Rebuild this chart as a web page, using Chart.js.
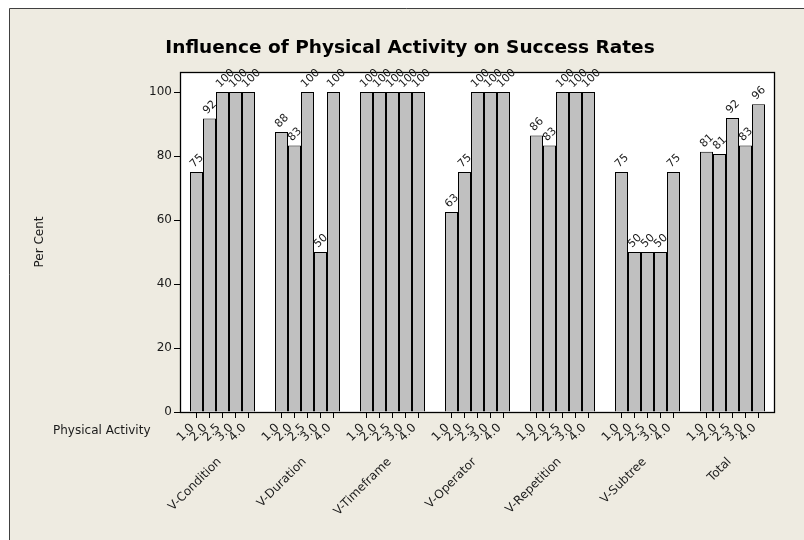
<!DOCTYPE html>
<html><head><meta charset="utf-8">
<script src="https://cdn.jsdelivr.net/npm/chart.js@4.4.1/dist/chart.umd.min.js"></script>
<style>html,body{margin:0;padding:0;background:#fff;} canvas{display:block;}</style>
</head><body>
<canvas id="c" width="804" height="540"></canvas>
<script>
const groups = ['V-Condition','V-Duration','V-Timeframe','V-Operator','V-Repetition','V-Subtree','Total'];
const activityLevels = ['1.0','2.0','2.5','3.0','4.0'];
// Per Cent per Physical Activity level, across the groups
const level10 = [75, 87.5, 100, 62.5, 86.4, 75, 81.3];
const level20 = [91.7, 83.3, 100, 75, 83.3, 50, 80.6];
const level25 = [100, 100, 100, 100, 100, 50, 91.9];
const level30 = [100, 50, 100, 100, 100, 50, 83.3];
const level40 = [100, 100, 100, 100, 100, 75, 96.2];
const yTicks = [0, 20, 40, 60, 80, 100];
const titleText = 'Influence of Physical Activity on Success Rates';
const yTitle = 'Per Cent';
const xTitle = 'Physical Activity';

const BG = '#EEEBE1';
const TXT = '#1a1a1a';
const FONT = 'DejaVu Sans';
Chart.defaults.font.family = FONT;
Chart.defaults.color = TXT;

const seriesValues = [level10, level20, level25, level30, level40];

const decor = {
  id: 'decor',
  beforeDraw(chart) {
    const ctx = chart.ctx, W = chart.width, H = chart.height;
    ctx.save();
    ctx.fillStyle = '#fff'; ctx.fillRect(0, 0, W, H);
    ctx.fillStyle = BG; ctx.fillRect(9, 8, W - 9, H - 8);
    ctx.strokeStyle = '#404040'; ctx.lineWidth = 1;
    ctx.beginPath(); ctx.moveTo(9.5, H); ctx.lineTo(9.5, 8.5); ctx.lineTo(W, 8.5); ctx.stroke();
    const a = chart.chartArea;
    ctx.fillStyle = '#fff'; ctx.fillRect(a.left, a.top, a.right - a.left, a.bottom - a.top);
    ctx.restore();
  },
  afterDatasetsDraw(chart) {
    const ctx = chart.ctx, a = chart.chartArea;
    ctx.save();
    // plot box
    ctx.strokeStyle = '#000'; ctx.lineWidth = 1.3;
    ctx.strokeRect(a.left + 0.5, a.top + 0.5, a.right - a.left - 1, a.bottom - a.top);
    ctx.fillStyle = TXT;
    chart.data.datasets.forEach((ds, di) => {
      const meta = chart.getDatasetMeta(di);
      meta.data.forEach((el, i) => {
        // tick mark
        ctx.strokeStyle = '#000'; ctx.lineWidth = 1;
        const tx = Math.floor(el.x) + 0.5;
        ctx.beginPath(); ctx.moveTo(tx, a.bottom); ctx.lineTo(tx, a.bottom + 6); ctx.stroke();
        // value label
        ctx.save();
        ctx.translate(el.x - 2.5, el.y - 4);
        ctx.rotate(-Math.PI / 4);
        ctx.font = '11px "' + FONT + '"';
        ctx.textAlign = 'left'; ctx.textBaseline = 'alphabetic';
        ctx.fillText(String(Math.round(ds.data[i])), 0, 0);
        ctx.restore();
        // sub category label
        ctx.save();
        ctx.translate(el.x - 4, a.bottom + 14);
        ctx.rotate(-Math.PI / 4);
        ctx.font = '12px "' + FONT + '"';
        ctx.textAlign = 'right'; ctx.textBaseline = 'middle';
        ctx.fillText(activityLevels[di], 0, 0);
        ctx.restore();
      });
    });
    const xs = chart.scales.x;
    groups.forEach((g, i) => {
      const x = xs.getPixelForTick(i);
      ctx.save();
      ctx.translate(x - 3, a.bottom + 48);
      ctx.rotate(-Math.PI / 4);
      ctx.font = '12px "' + FONT + '"';
      ctx.textAlign = 'right'; ctx.textBaseline = 'middle';
      ctx.fillText(g, 0, 0);
      ctx.restore();
    });
    // x title (category variable)
    ctx.font = '12px "' + FONT + '"';
    ctx.textAlign = 'left'; ctx.textBaseline = 'alphabetic';
    ctx.fillText(xTitle, 53, 434);
    // chart title
    ctx.font = 'bold 18.5px "' + FONT + '"';
    ctx.textAlign = 'center';
    ctx.fillStyle = '#000';
    ctx.fillText(titleText, 410, 53);
    ctx.restore();
  }
};

new Chart(document.getElementById('c'), {
  type: 'bar',
  data: {
    labels: groups,
    datasets: seriesValues.map((vals, i) => ({
      label: activityLevels[i],
      data: vals,
      backgroundColor: '#C0C0C0',
      borderColor: '#000',
      borderWidth: 1,
      categoryPercentage: 65 / 85,
      barPercentage: 1.0
    }))
  },
  options: {
    responsive: false,
    animation: false,
    devicePixelRatio: 1,
    layout: { padding: { top: 72, right: 29, left: 0, bottom: 0 } },
    plugins: { legend: { display: false }, tooltip: { enabled: false }, title: { display: false } },
    scales: {
      x: {
        grid: { display: false },
        border: { display: false },
        ticks: { display: false },
        afterFit(s) { s.height = 128; }
      },
      y: {
        min: 0, max: 106.25,
        afterBuildTicks(s) { s.ticks = yTicks.map(v => ({ value: v })); },
        ticks: { stepSize: 20, padding: 2, color: TXT, font: { size: 12, family: FONT } },
        grid: { drawOnChartArea: false, drawTicks: true, tickLength: 6, color: '#000' },
        border: { display: false },
        title: { display: true, text: yTitle, color: TXT, font: { size: 12, family: FONT }, padding: { top: 33, bottom: 0 } },
        afterFit(s) { s.width = 180; }
      }
    }
  },
  plugins: [decor]
});
</script>
</body></html>
